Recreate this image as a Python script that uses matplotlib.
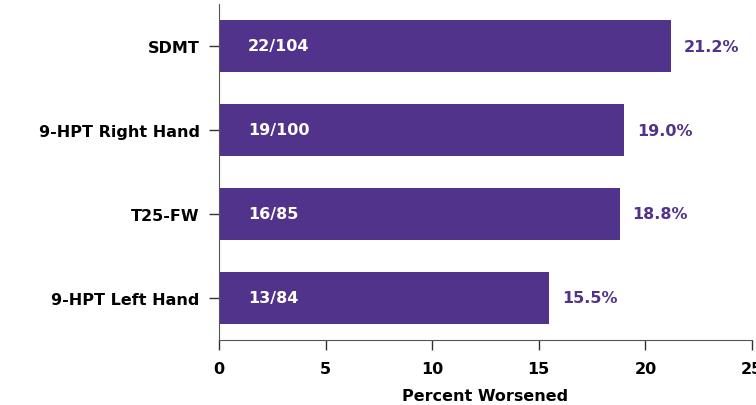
import matplotlib.pyplot as plt

categories = ['SDMT', '9-HPT Right Hand', 'T25-FW', '9-HPT Left Hand']
percent = [21.2, 19.0, 18.8, 15.5]
counts = ['22/104', '19/100', '16/85', '13/84']
xticks = [0, 5, 10, 15, 20, 25]

purple = '#52338C'
fs = 11.5

fig = plt.figure(figsize=(7.56, 4.06), dpi=100)
ax = fig.add_axes([219 / 756, (406 - 341) / 406, (752 - 219) / 756, 336 / 406])

ypos = list(range(len(categories)))
ax.barh(ypos, percent, height=0.62, color=purple)

for y, p, c in zip(ypos, percent, counts):
    ax.text(1.35, y, c, color='white', fontsize=fs, fontweight='bold', va='center', ha='left')
    ax.text(p + 0.6, y, f'{p:.1f}%', color=purple, fontsize=fs, fontweight='bold', va='center', ha='left')

ax.set_ylim(len(categories) - 0.5, -0.5)
ax.set_xlim(0, 25)
ax.set_yticks(ypos)
ax.set_yticklabels(categories, fontsize=fs, fontweight='bold')
ax.set_xticks(xticks)
ax.set_xticklabels([str(t) for t in xticks], fontsize=fs, fontweight='bold')
ax.set_xlabel('Percent Worsened', fontsize=fs, fontweight='bold', labelpad=9)

for side in ['top', 'right']:
    ax.spines[side].set_visible(False)
for side in ['left', 'bottom']:
    ax.spines[side].set_color('#555555')
ax.tick_params(axis='both', length=7, color='#333333', width=1)
ax.tick_params(axis='y', pad=7)
ax.tick_params(axis='x', pad=8)

fig.savefig('out.png', dpi=100)
